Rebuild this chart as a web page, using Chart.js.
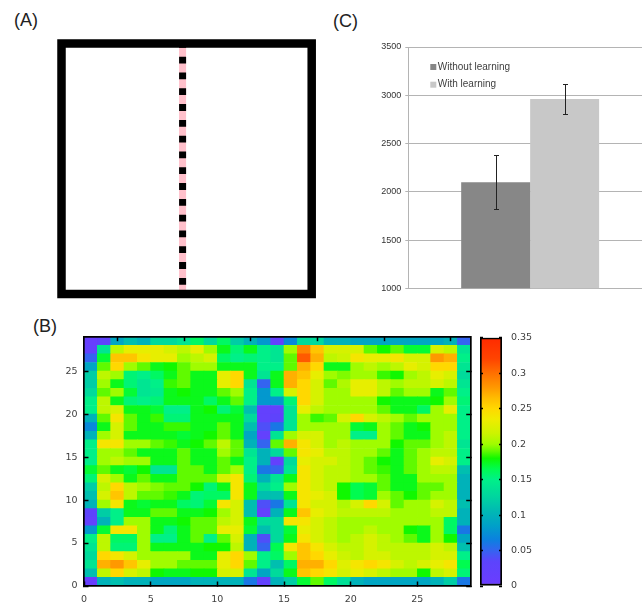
<!DOCTYPE html>
<html>
<head>
<meta charset="utf-8">
<script src="https://cdn.jsdelivr.net/npm/chart.js@4.4.1/dist/chart.umd.min.js"></script>
<style>
  html, body { margin: 0; padding: 0; background: #fff; }
  body { width: 642px; height: 604px; position: relative; overflow: hidden; font-family: 'Liberation Sans', Arial, sans-serif; }
  canvas { position: absolute; }
  .tag { position: absolute; font-size: 18px; line-height: 1; color: #222; }
</style>
</head>
<body>
<div class="tag" style="left:14px;top:11px">(A)</div>
<div class="tag" style="left:333px;top:11.5px">(C)</div>
<div class="tag" style="left:33px;top:316.5px">(B)</div>
<canvas id="arena" width="330" height="310" style="left:0;top:0"></canvas>
<canvas id="heat" width="480" height="284" style="left:0;top:320px"></canvas>
<canvas id="cbar" width="100" height="284" style="left:470px;top:320px"></canvas>
<canvas id="bars" width="322" height="270" style="left:330px;top:30px"></canvas>
<script>
// (A) arena outline and the dashed partition, in unit coordinates
const arenaWalls = [{x: 0, y: 0}, {x: 1, y: 0}, {x: 1, y: 1}, {x: 0, y: 1}, {x: 0, y: 0}];
const partition = [{x: 0.484, y: 1}, {x: 0.484, y: 0}];

// (B) occupancy map, 29 x 29, rows listed from y = 28 (top) down to y = 0
const gridSize = 29;
const heatValues = [
  [0.01,0.03,0.09,0.11,0.10,0.13,0.13,0.14,0.16,0.13,0.16,0.12,0.10,0.08,0.02,0.07,0.13,0.13,0.10,0.10,0.09,0.09,0.09,0.09,0.09,0.09,0.09,0.10,0.05],
  [0.02,0.14,0.21,0.23,0.23,0.23,0.22,0.21,0.23,0.20,0.175,0.155,0.175,0.15,0.14,0.20,0.29,0.26,0.22,0.22,0.22,0.19,0.18,0.19,0.17,0.17,0.22,0.21,0.14],
  [0.05,0.17,0.26,0.26,0.24,0.23,0.23,0.20,0.21,0.22,0.16,0.15,0.155,0.15,0.14,0.19,0.31,0.27,0.21,0.215,0.24,0.23,0.23,0.24,0.22,0.22,0.28,0.27,0.15],
  [0.09,0.19,0.25,0.20,0.19,0.175,0.18,0.19,0.20,0.20,0.175,0.175,0.175,0.15,0.15,0.19,0.27,0.25,0.175,0.175,0.20,0.21,0.20,0.21,0.23,0.22,0.25,0.25,0.14],
  [0.12,0.21,0.20,0.155,0.15,0.16,0.175,0.19,0.175,0.175,0.23,0.25,0.175,0.14,0.175,0.27,0.26,0.23,0.20,0.195,0.20,0.20,0.185,0.18,0.20,0.21,0.23,0.22,0.13],
  [0.12,0.20,0.175,0.155,0.14,0.15,0.185,0.19,0.175,0.175,0.23,0.25,0.14,0.05,0.175,0.27,0.25,0.22,0.19,0.205,0.23,0.23,0.21,0.20,0.21,0.21,0.22,0.21,0.14],
  [0.13,0.19,0.20,0.17,0.14,0.145,0.175,0.18,0.175,0.175,0.19,0.20,0.15,0.08,0.15,0.22,0.25,0.22,0.20,0.20,0.23,0.23,0.21,0.19,0.20,0.20,0.175,0.19,0.15],
  [0.15,0.21,0.175,0.155,0.15,0.155,0.175,0.175,0.175,0.16,0.175,0.19,0.15,0.08,0.08,0.155,0.25,0.22,0.20,0.20,0.20,0.20,0.18,0.175,0.175,0.175,0.18,0.20,0.155],
  [0.15,0.21,0.22,0.175,0.175,0.17,0.15,0.15,0.175,0.18,0.155,0.17,0.11,0.02,0.02,0.14,0.23,0.21,0.20,0.20,0.20,0.20,0.19,0.175,0.175,0.16,0.20,0.23,0.15],
  [0.10,0.19,0.24,0.19,0.175,0.185,0.155,0.155,0.175,0.175,0.175,0.175,0.13,0.02,0.03,0.14,0.20,0.185,0.19,0.22,0.25,0.22,0.21,0.20,0.19,0.20,0.20,0.20,0.15],
  [0.07,0.175,0.22,0.19,0.175,0.175,0.185,0.185,0.175,0.175,0.19,0.175,0.11,0.04,0.06,0.14,0.20,0.20,0.20,0.20,0.17,0.175,0.20,0.19,0.175,0.18,0.20,0.20,0.15],
  [0.10,0.20,0.22,0.175,0.175,0.175,0.175,0.17,0.175,0.18,0.19,0.175,0.09,0.02,0.14,0.20,0.22,0.22,0.20,0.20,0.15,0.15,0.20,0.19,0.175,0.175,0.20,0.21,0.15],
  [0.15,0.24,0.24,0.20,0.20,0.19,0.185,0.175,0.18,0.19,0.21,0.19,0.10,0.05,0.19,0.27,0.24,0.22,0.20,0.21,0.20,0.20,0.20,0.18,0.19,0.19,0.20,0.21,0.14],
  [0.15,0.20,0.20,0.19,0.175,0.175,0.175,0.19,0.175,0.175,0.20,0.19,0.14,0.10,0.13,0.19,0.24,0.23,0.21,0.21,0.20,0.20,0.19,0.175,0.19,0.20,0.21,0.21,0.15],
  [0.15,0.20,0.21,0.20,0.20,0.175,0.175,0.19,0.175,0.175,0.19,0.175,0.15,0.10,0.02,0.13,0.23,0.22,0.22,0.21,0.20,0.19,0.18,0.175,0.19,0.20,0.23,0.22,0.15],
  [0.17,0.19,0.175,0.17,0.18,0.14,0.14,0.19,0.19,0.175,0.19,0.20,0.15,0.06,0.05,0.14,0.24,0.22,0.21,0.21,0.20,0.19,0.185,0.175,0.19,0.20,0.21,0.21,0.11],
  [0.155,0.22,0.20,0.175,0.19,0.175,0.175,0.19,0.19,0.19,0.22,0.24,0.155,0.10,0.14,0.175,0.24,0.22,0.21,0.21,0.20,0.20,0.19,0.175,0.175,0.20,0.20,0.20,0.10],
  [0.12,0.21,0.25,0.21,0.20,0.195,0.19,0.19,0.18,0.155,0.175,0.24,0.175,0.13,0.15,0.20,0.24,0.22,0.21,0.18,0.165,0.17,0.19,0.175,0.175,0.19,0.19,0.20,0.10],
  [0.11,0.22,0.26,0.21,0.19,0.19,0.185,0.175,0.155,0.16,0.16,0.24,0.175,0.11,0.11,0.175,0.24,0.23,0.22,0.18,0.165,0.17,0.20,0.19,0.18,0.19,0.20,0.20,0.10],
  [0.10,0.20,0.24,0.175,0.17,0.175,0.175,0.16,0.155,0.17,0.24,0.22,0.11,0.04,0.06,0.14,0.24,0.22,0.22,0.205,0.22,0.25,0.22,0.19,0.20,0.20,0.22,0.21,0.11],
  [0.03,0.12,0.15,0.175,0.175,0.19,0.19,0.175,0.175,0.18,0.20,0.22,0.11,0.02,0.10,0.175,0.26,0.23,0.22,0.21,0.21,0.21,0.21,0.20,0.20,0.20,0.21,0.21,0.10],
  [0.02,0.10,0.15,0.20,0.20,0.175,0.175,0.18,0.19,0.19,0.21,0.22,0.175,0.13,0.13,0.24,0.24,0.22,0.21,0.20,0.20,0.20,0.20,0.20,0.20,0.20,0.20,0.16,0.10],
  [0.08,0.17,0.24,0.24,0.20,0.175,0.155,0.175,0.19,0.19,0.23,0.23,0.17,0.11,0.13,0.17,0.23,0.22,0.21,0.20,0.20,0.21,0.20,0.20,0.18,0.175,0.20,0.16,0.06],
  [0.15,0.21,0.16,0.16,0.20,0.15,0.15,0.175,0.19,0.15,0.19,0.22,0.10,0.04,0.13,0.175,0.24,0.22,0.21,0.20,0.21,0.22,0.21,0.20,0.19,0.175,0.20,0.18,0.09],
  [0.14,0.21,0.155,0.155,0.20,0.175,0.175,0.175,0.175,0.18,0.18,0.21,0.10,0.05,0.165,0.24,0.26,0.24,0.22,0.21,0.21,0.22,0.21,0.21,0.21,0.21,0.22,0.21,0.11],
  [0.13,0.25,0.24,0.22,0.20,0.20,0.20,0.20,0.175,0.175,0.23,0.25,0.20,0.15,0.16,0.20,0.26,0.25,0.23,0.215,0.21,0.22,0.22,0.21,0.21,0.21,0.22,0.22,0.15],
  [0.14,0.27,0.28,0.26,0.23,0.20,0.20,0.19,0.19,0.19,0.23,0.25,0.19,0.15,0.11,0.16,0.27,0.27,0.25,0.225,0.24,0.25,0.24,0.22,0.21,0.22,0.23,0.24,0.165],
  [0.11,0.21,0.25,0.22,0.21,0.18,0.175,0.175,0.18,0.18,0.22,0.22,0.14,0.09,0.13,0.175,0.26,0.25,0.24,0.22,0.23,0.22,0.21,0.20,0.20,0.18,0.21,0.22,0.155],
  [0.01,0.10,0.11,0.10,0.10,0.09,0.09,0.09,0.10,0.10,0.10,0.10,0.06,0.02,0.10,0.12,0.17,0.19,0.16,0.135,0.10,0.09,0.09,0.09,0.09,0.09,0.10,0.12,0.06]
];
const heatTickLabels = ['0', '5', '10', '15', '20', '25'];
const cbarRange = [0, 0.35];
const cbarTickLabels = ['0', '0.05', '0.1', '0.15', '0.2', '0.25', '0.3', '0.35'];
const colorStops = [
  [0.00, '#6c3cff'], [0.035, '#5c44fc'], [0.05, '#3464f0'], [0.065, '#0c80e0'],
  [0.085, '#00a0c8'], [0.105, '#00b8b4'], [0.125, '#00d4a0'], [0.15, '#00f088'],
  [0.165, '#00fc50'], [0.18, '#10f800'], [0.19, '#60fa00'], [0.20, '#a0fc00'],
  [0.215, '#ccf400'], [0.235, '#f0ec00'], [0.25, '#ffd800'], [0.265, '#ffbc00'],
  [0.28, '#ff9800'], [0.30, '#ff7000'], [0.32, '#ff4400'], [0.35, '#ff2a00']
];

// (C) mean and error per condition
const barLabels = ['Without learning', 'With learning'];
const barMeans = [2100, 2960];
const barErrors = [280, 157];
const barColors = ['#878787', '#c8c8c8'];
const barTickLabels = ['1000', '1500', '2000', '2500', '3000', '3500'];

Chart.defaults.font.family = "'DejaVu Sans', sans-serif";
Chart.defaults.animation = false;
Chart.defaults.events = [];
Chart.defaults.plugins.legend.display = false;
Chart.defaults.plugins.tooltip.enabled = false;

function hexToRgb(h) {
  return [parseInt(h.slice(1, 3), 16), parseInt(h.slice(3, 5), 16), parseInt(h.slice(5, 7), 16)];
}
function colorFor(v) {
  for (let i = 1; i < colorStops.length; i++) {
    const [v1, c1] = colorStops[i];
    if (v <= v1) {
      const [v0, c0] = colorStops[i - 1];
      const t = (v - v0) / (v1 - v0);
      const a = hexToRgb(c0), b = hexToRgb(c1);
      return 'rgb(' + a.map((x, k) => Math.round(x + (b[k] - x) * t)).join(',') + ')';
    }
  }
  return colorStops[colorStops.length - 1][1];
}

// ---------- (A) ----------
new Chart(document.getElementById('arena'), {
  type: 'scatter',
  data: {
    datasets: [
      { data: arenaWalls, showLine: true, borderColor: '#000', borderWidth: 8.5,
        borderJoinStyle: 'miter', borderCapStyle: 'square', pointRadius: 0, clip: false },
      { data: partition, showLine: true, borderColor: '#000', borderWidth: 7,
        borderDash: [6.8, 9], borderDashOffset: 2.6, pointRadius: 0, clip: false },
      { data: partition, showLine: true, borderColor: '#ffc0cb', borderWidth: 7, pointRadius: 0, clip: false }
    ]
  },
  options: {
    responsive: false,
    layout: { padding: { left: 61.5, right: 18.3, top: 43.5, bottom: 16 } },
    scales: {
      x: { type: 'linear', display: false, min: 0, max: 1 },
      y: { display: false, min: 0, max: 1 }
    }
  }
});

// ---------- (B) heat map ----------
const cells = [];
heatValues.forEach((row, r) => {
  const yv = gridSize - 1 - r;
  row.forEach((v, c) => cells.push({ x: c + 0.5, y: [yv, yv + 1], v: v }));
});

const frameTicks = { drawOnChartArea: false, tickLength: -4.5, tickWidth: 1.5, tickColor: '#000', z: 1 };
const frameBorder = { color: '#000', width: 1.7, z: 1 };
const heatTickFont = { size: 9.5 };

new Chart(document.getElementById('heat'), {
  type: 'bar',
  data: {
    datasets: [{
      data: cells,
      backgroundColor: cells.map(d => colorFor(d.v)),
      borderWidth: 0,
      barPercentage: 1,
      categoryPercentage: 1
    }]
  },
  options: {
    responsive: false,
    layout: { padding: { top: 12.5, right: 9.3, left: 0, bottom: 0 } },
    scales: {
      x: {
        type: 'linear', min: 0, max: gridSize, offset: false,
        ticks: { stepSize: 5, includeBounds: false, padding: 12, color: '#404040', font: heatTickFont,
                 maxRotation: 0, autoSkip: false, callback: (v, i) => heatTickLabels[i] },
        grid: Object.assign({ offset: false }, frameTicks),
        border: frameBorder,
        afterFit: s => { s.height = 18; }
      },
      x2: {
        type: 'linear', position: 'top', min: 0, max: gridSize, offset: false,
        ticks: { stepSize: 5, includeBounds: false, display: false },
        grid: frameTicks, border: frameBorder,
        afterFit: s => { s.height = 0; }
      },
      y: {
        type: 'linear', min: 0, max: gridSize,
        ticks: { stepSize: 5, includeBounds: false, padding: 11, color: '#404040', font: heatTickFont,
                 callback: (v, i) => heatTickLabels[i] },
        grid: frameTicks, border: frameBorder,
        afterFit: s => { s.width = 84; }
      },
      y2: {
        type: 'linear', position: 'right', min: 0, max: gridSize,
        ticks: { stepSize: 5, includeBounds: false, display: false },
        grid: frameTicks, border: frameBorder,
        afterFit: s => { s.width = 0; }
      }
    }
  }
});

// ---------- (B) colour bar ----------
function gradientFill(context) {
  const chart = context.chart;
  if (!chart.chartArea) return 'transparent';
  const y = chart.scales.y;
  const g = chart.ctx.createLinearGradient(0, y.getPixelForValue(cbarRange[0]), 0, y.getPixelForValue(cbarRange[1]));
  colorStops.forEach(([v, c]) => g.addColorStop((v - cbarRange[0]) / (cbarRange[1] - cbarRange[0]), c));
  return g;
}
const cbarTicks = { drawOnChartArea: false, tickLength: -3, tickWidth: 1.5, tickColor: '#000', z: 1 };

new Chart(document.getElementById('cbar'), {
  type: 'bar',
  data: {
    labels: [''],
    datasets: [{
      data: [cbarRange],
      backgroundColor: gradientFill,
      borderColor: '#000',
      borderWidth: 2,
      borderSkipped: false,
      barPercentage: 1,
      categoryPercentage: 1
    }]
  },
  options: {
    responsive: false,
    layout: { padding: { left: 10, top: 12, bottom: 18, right: 0 } },
    scales: {
      x: { display: false },
      y: {
        position: 'right', min: cbarRange[0], max: cbarRange[1],
        ticks: { stepSize: 0.05, padding: 12, color: '#404040', font: heatTickFont,
                 callback: (v, i) => cbarTickLabels[i] },
        grid: cbarTicks, border: { display: false },
        afterFit: s => { s.width = 68; }
      },
      y2: {
        type: 'linear', position: 'left', min: cbarRange[0], max: cbarRange[1],
        ticks: { stepSize: 0.05, display: false },
        grid: cbarTicks, border: { display: false },
        afterFit: s => { s.width = 0; }
      }
    }
  }
});

// ---------- (C) bar chart ----------
const errorBars = {
  id: 'errorBars',
  afterDatasetsDraw(chart) {
    const { ctx, scales: { y } } = chart;
    ctx.save();
    ctx.strokeStyle = '#222';
    ctx.lineWidth = 1;
    chart.data.datasets.forEach((ds, i) => {
      const bar = chart.getDatasetMeta(i).data[0];
      const x = Math.round(bar.x) + 0.5;
      const hi = Math.round(y.getPixelForValue(barMeans[i] + barErrors[i])) + 0.5;
      const lo = Math.round(y.getPixelForValue(barMeans[i] - barErrors[i])) + 0.5;
      ctx.beginPath();
      ctx.moveTo(x, hi); ctx.lineTo(x, lo);
      ctx.moveTo(x - 2.5, hi); ctx.lineTo(x + 2.5, hi);
      ctx.moveTo(x - 2.5, lo); ctx.lineTo(x + 2.5, lo);
      ctx.stroke();
    });
    ctx.restore();
  }
};

const insideLegend = {
  id: 'insideLegend',
  afterDraw(chart) {
    const { ctx, chartArea } = chart;
    ctx.save();
    ctx.font = "10px 'Liberation Sans', Arial, sans-serif";
    ctx.textBaseline = 'middle';
    chart.data.datasets.forEach((ds, i) => {
      const y = chartArea.top + 20 + i * 17.7;
      ctx.fillStyle = ds.backgroundColor;
      ctx.fillRect(chartArea.left + 22, y - 3, 6, 6);
      ctx.fillStyle = '#404040';
      ctx.fillText(ds.label, chartArea.left + 29.5, y);
    });
    ctx.restore();
  }
};

new Chart(document.getElementById('bars'), {
  type: 'bar',
  data: {
    labels: [''],
    datasets: barLabels.map((label, i) => ({
      label: label,
      data: [barMeans[i]],
      backgroundColor: barColors[i],
      borderWidth: 0,
      barPercentage: 1,
      categoryPercentage: 0.566
    }))
  },
  options: {
    responsive: false,
    layout: { padding: { left: 0, top: 17, right: 0, bottom: 11.7 } },
    scales: {
      x: { display: false },
      y: {
        min: 1000, max: 3500,
        ticks: { stepSize: 500, padding: 4, color: '#333',
                 font: { size: 9, family: "'Liberation Sans', Arial, sans-serif" },
                 callback: (v, i) => barTickLabels[i] },
        grid: { color: '#b4b4b4', tickLength: 3 },
        border: { color: '#b4b4b4', width: 1 },
        afterFit: s => { s.width = 78.3; }
      }
    }
  },
  plugins: [errorBars, insideLegend]
});
</script>
</body>
</html>
